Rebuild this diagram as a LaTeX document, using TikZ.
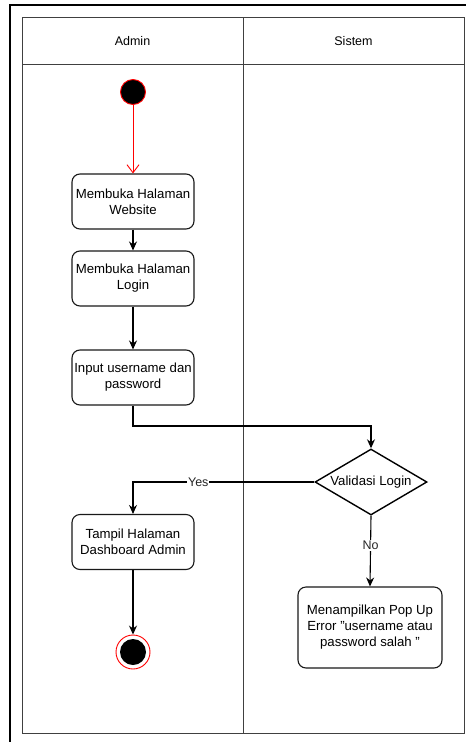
\documentclass[tikz,border=0pt]{standalone}
\usepackage{fontspec}
\setmainfont{Liberation Sans}
\usetikzlibrary{arrows.meta,shapes.geometric}
\begin{document}
\begin{tikzpicture}[x=1pt,y=-1pt,
  act/.style={draw=black!90, line width=1.1pt, rounded corners=8pt, minimum width=122pt, minimum height=55pt, align=center, font=\fontsize{13.2}{16}\selectfont, inner sep=1pt},
  flow/.style={draw=black, line width=1.1pt, -{Stealth[length=9pt,width=8pt]}},
  lbl/.style={fill=white, inner sep=1pt, font=\fontsize{12.5}{14}\selectfont, text=black!85},
  lane/.style={draw=black!75, line width=0.9pt}]
\useasboundingbox (0,0) rectangle (466,742);
% outer frame
\draw[line width=1.8pt] (466,5) -- (10,5) -- (10,742);
% swimlane table
\draw[lane] (22,17) rectangle (464,733);
\draw[lane] (22,64) -- (464,64);
\draw[lane] (243,17) -- (243,733);
\node[font=\fontsize{12.5}{15}\selectfont] (hA) at (132.5,41) {Admin};
\node[font=\fontsize{12.5}{15}\selectfont] (hS) at (353.5,41) {Sistem};
% start
\node[circle, fill=black, draw=red, line width=0.9pt, minimum size=25pt, inner sep=0pt] (start) at (133,92) {};
% activities
\node[act] (a1) at (133,201.5) {Membuka Halaman\\Website};
\node[act] (a2) at (133,278.5) {Membuka Halaman\\Login};
\node[act] (a3) at (133,377.5) {Input username dan\\password};
\node[diamond, aspect=1.7, draw=black, line width=1.4pt, minimum width=112pt, minimum height=66pt, inner sep=0pt, font=\fontsize{13.2}{16}\selectfont] (d) at (371,482) {Validasi Login};
\node[act] (a4) at (133,542) {Tampil Halaman\\Dashboard Admin};
\node[act, minimum width=144pt, minimum height=81pt] (a5) at (370,627.5) {Menampilkan Pop Up\\Error "username atau\\password salah "};
% end
\node[circle, draw=red, line width=0.9pt, minimum size=34pt, inner sep=0pt, fill=white] (end) at (133,652) {};
\node[circle, fill=black, minimum size=26pt, inner sep=0pt] (endin) at (end.center) {};
% connectors
\draw[red, line width=0.9pt, -{Straight Barb[length=8pt,width=12pt]}] (start) -- (a1);
\draw[flow] (a1) -- (a2);
\draw[flow] (a2) -- (a3);
\draw[flow] (a3.south) |- (371,426) -- (d.north);
\draw[flow] (d.west) -| node[lbl, pos=0.32] {Yes} (a4.north);
\draw[flow] (d.south) -- node[lbl, pos=0.42] {No} (a5.north);
\draw[flow] (a4) -- (end);
\end{tikzpicture}
\end{document}
